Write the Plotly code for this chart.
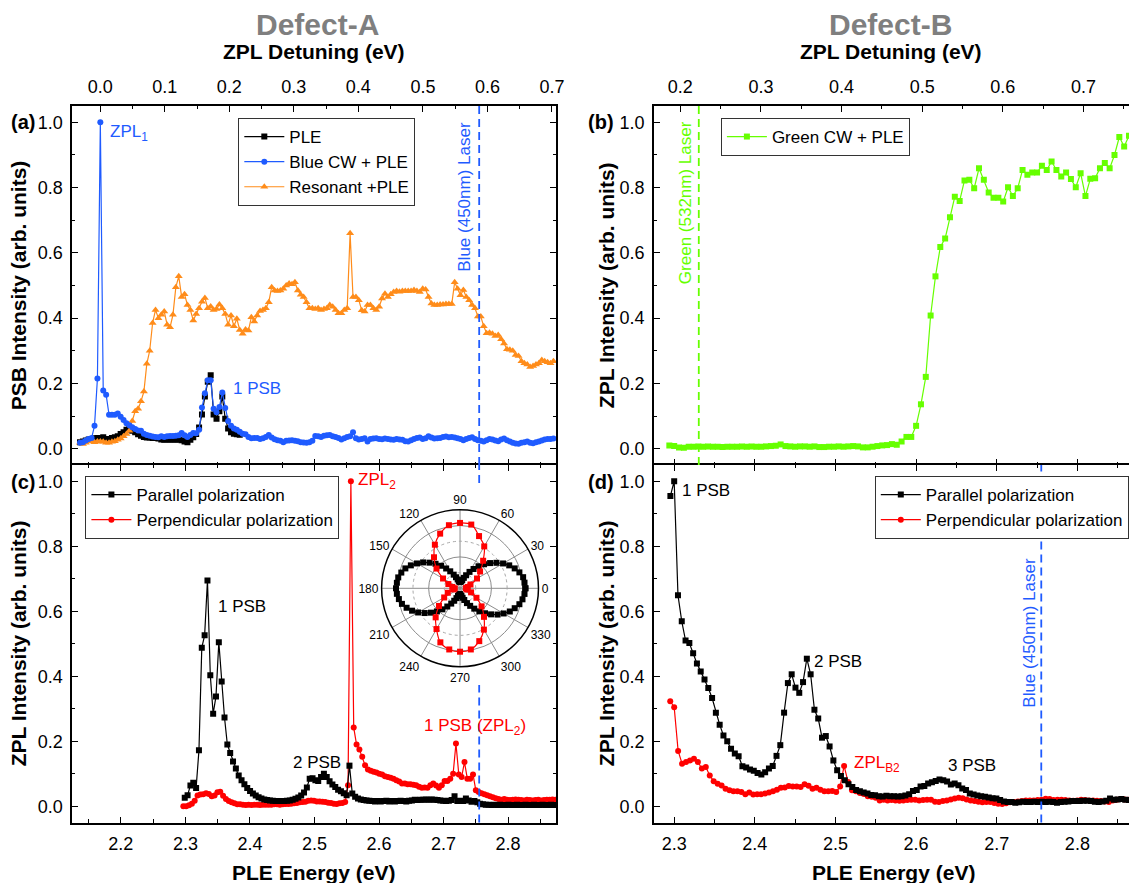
import numpy as np
import plotly.graph_objects as go

W, H = 1137, 883
FONT = "Liberation Sans, Arial, sans-serif"

BLACK = "#000000"
BLUE = "#1F5BFF"
ORANGE = "#FF8C1A"
GREEN = "#66FF00"
RED = "#FF0000"
GREY = "#7F7F7F"

# ---------------- Defect-A, panel (a): PSB-detected PLE ----------------
E0_A, DE_A = 2.1367, 0.0045          # scan start / step (eV)
ZPL_A = 2.168                        # ZPL1 energy, origin of the detuning axis

ple_a = [
    0.020, 0.022, 0.025, 0.028, 0.030, 0.032, 0.033, 0.032, 0.035, 0.030,
    0.028, 0.033, 0.035, 0.038, 0.045, 0.050, 0.058, 0.060, 0.055, 0.050,
    0.044, 0.040, 0.036, 0.034, 0.034, 0.033, 0.033, 0.031, 0.028, 0.027,
    0.028, 0.027, 0.028, 0.027, 0.028, 0.026, 0.022, 0.020, 0.027, 0.035,
    0.045, 0.065, 0.105, 0.160, 0.205, 0.225, 0.105, 0.092, 0.115, 0.160,
    0.092, 0.062, 0.050, 0.046, 0.044, 0.043,
]

blue_cw_ple = [
    0.018, 0.020, 0.025, 0.030, 0.033, 0.070, 0.215, 1.000, 0.178, 0.165,
    0.104, 0.104, 0.104, 0.108, 0.098, 0.088, 0.078, 0.072, 0.066, 0.060,
    0.056, 0.055, 0.046, 0.042, 0.040, 0.037, 0.036, 0.035, 0.038, 0.036,
    0.038, 0.039, 0.039, 0.040, 0.041, 0.048, 0.041, 0.036, 0.042, 0.048,
    0.047, 0.058, 0.126, 0.170, 0.210, 0.210, 0.122, 0.112, 0.128, 0.172,
    0.125, 0.085, 0.070, 0.062, 0.058, 0.052, 0.046, 0.044, 0.036, 0.032,
    0.033, 0.033, 0.030, 0.032, 0.036, 0.042, 0.034, 0.029, 0.026, 0.024,
    0.020, 0.024, 0.025, 0.026, 0.024, 0.023, 0.020, 0.019, 0.018, 0.020,
    0.024, 0.039, 0.038, 0.036, 0.040, 0.041, 0.042, 0.038, 0.036, 0.033,
    0.028, 0.032, 0.036, 0.038, 0.050, 0.032, 0.028, 0.030, 0.032, 0.022,
    0.030, 0.031, 0.032, 0.030, 0.029, 0.031, 0.030, 0.028, 0.027, 0.030,
    0.028, 0.027, 0.023, 0.022, 0.026, 0.030, 0.033, 0.034, 0.030, 0.032,
    0.038, 0.034, 0.031, 0.032, 0.033, 0.036, 0.037, 0.035, 0.036, 0.034,
    0.032, 0.030, 0.026, 0.030, 0.033, 0.035, 0.030, 0.026, 0.024, 0.022,
    0.026, 0.030, 0.028, 0.025, 0.023, 0.028, 0.031, 0.026, 0.022, 0.018,
    0.016, 0.015, 0.018, 0.020, 0.022, 0.018, 0.017, 0.020, 0.022, 0.025,
    0.028, 0.030, 0.030, 0.031,
]

resonant_ple = [
    0.018, 0.014, 0.018, 0.022, 0.026, 0.020, 0.022, 0.022, 0.021, 0.018,
    0.018, 0.021, 0.023, 0.027, 0.031, 0.038, 0.045, 0.055, 0.085, 0.115,
    0.122, 0.145, 0.175, 0.260, 0.300, 0.385, 0.425, 0.400, 0.410, 0.420,
    0.380, 0.372, 0.410, 0.495, 0.528, 0.465, 0.473, 0.440, 0.425, 0.393,
    0.413, 0.430, 0.450, 0.462, 0.430, 0.436, 0.425, 0.428, 0.442, 0.430,
    0.413, 0.380, 0.408, 0.375, 0.398, 0.364, 0.352, 0.365, 0.362, 0.403,
    0.390, 0.408, 0.422, 0.425, 0.430, 0.449, 0.495, 0.485, 0.483, 0.485,
    0.490, 0.500, 0.506, 0.504, 0.510, 0.485, 0.472, 0.465, 0.449, 0.430,
    0.430, 0.428, 0.430, 0.425, 0.428, 0.430, 0.440, 0.435, 0.425, 0.415,
    0.415, 0.425, 0.430, 0.660, 0.465, 0.465, 0.455, 0.424, 0.420, 0.440,
    0.440, 0.430, 0.425, 0.435, 0.460, 0.475, 0.465, 0.473, 0.480, 0.483,
    0.481, 0.483, 0.483, 0.483, 0.483, 0.486, 0.483, 0.480, 0.490, 0.488,
    0.465, 0.445, 0.440, 0.440, 0.442, 0.442, 0.443, 0.443, 0.443, 0.510,
    0.490, 0.470, 0.486, 0.465, 0.455, 0.440, 0.430, 0.405, 0.405, 0.375,
    0.354, 0.355, 0.352, 0.345, 0.348, 0.335, 0.322, 0.305, 0.303, 0.300,
    0.287, 0.284, 0.268, 0.262, 0.258, 0.250, 0.253, 0.258, 0.262, 0.272,
    0.268, 0.265, 0.262, 0.268,
]

# ---------------- Defect-B, panel (b): ZPL-detected PLE ----------------
E0_B, DE_B = 2.294, 0.006
ZPL_B = 2.1076

green_cw_ple = [
    0.010, 0.008, 0.004, 0.003, 0.006, 0.006, 0.007, 0.006, 0.007, 0.006,
    0.006, 0.005, 0.006, 0.006, 0.006, 0.007, 0.006, 0.007, 0.006, 0.006,
    0.007, 0.008, 0.009, 0.013, 0.008, 0.007, 0.006, 0.007, 0.007, 0.006,
    0.007, 0.005, 0.005, 0.006, 0.006, 0.007, 0.006, 0.007, 0.008, 0.007,
    0.004, 0.004, 0.006, 0.008, 0.010, 0.011, 0.014, 0.012, 0.022, 0.036,
    0.036, 0.070, 0.136, 0.220, 0.408, 0.528, 0.618, 0.644, 0.709, 0.772,
    0.759, 0.822, 0.824, 0.798, 0.859, 0.824, 0.785, 0.769, 0.769, 0.757,
    0.801, 0.774, 0.798, 0.854, 0.839, 0.846, 0.846, 0.867, 0.854, 0.880,
    0.854, 0.834, 0.846, 0.826, 0.801, 0.844, 0.774, 0.827, 0.829, 0.859,
    0.875, 0.859, 0.900, 0.955, 0.926, 0.959,
]

# ---------------- Defect-A, panel (c): polarization-resolved PLE ----------------
E0_C_PAR, E0_C_PERP, DE_C = 2.2990, 2.2968, 0.0044

parallel_c = [
    0.026, 0.034, 0.064, 0.072, 0.056, 0.172, 0.488, 0.526, 0.695, 0.403,
    0.285, 0.338, 0.505, 0.384, 0.273, 0.190, 0.164, 0.138, 0.116, 0.095,
    0.080, 0.068, 0.056, 0.047, 0.039, 0.033, 0.028, 0.024, 0.021, 0.019,
    0.018, 0.017, 0.016, 0.016, 0.016, 0.016, 0.017, 0.018, 0.020, 0.023,
    0.027, 0.033, 0.042, 0.058, 0.085, 0.086, 0.080, 0.078, 0.090, 0.100,
    0.090, 0.077, 0.067, 0.059, 0.051, 0.046, 0.040, 0.034, 0.125, 0.039,
    0.029, 0.024, 0.021, 0.019, 0.018, 0.017, 0.016, 0.015, 0.016, 0.015,
    0.016, 0.017, 0.015, 0.016, 0.015, 0.016, 0.017, 0.016, 0.015, 0.017,
    0.018, 0.020, 0.019, 0.020, 0.020, 0.021, 0.020, 0.021, 0.020, 0.019,
    0.018, 0.017, 0.016, 0.017, 0.019, 0.031, 0.016, 0.017, 0.016, 0.024,
    0.018, 0.014, 0.016, 0.012, 0.008, 0.006, 0.005, 0.005, 0.004, 0.005,
    0.004, 0.005, 0.004, 0.004, 0.005, 0.004, 0.004, 0.005, 0.004, 0.004,
    0.005, 0.004, 0.004, 0.005, 0.004, 0.004, 0.005, 0.004, 0.004, 0.005,
    0.004,
]

perpendicular_c = [
    0.000, 0.000, 0.003, 0.008, 0.017, 0.033, 0.036, 0.037, 0.040, 0.038,
    0.031, 0.033, 0.043, 0.045, 0.032, 0.022, 0.016, 0.012, 0.009, 0.006,
    0.006, 0.005, 0.004, 0.005, 0.004, 0.005, 0.005, 0.004, 0.005, 0.005,
    0.005, 0.005, 0.006, 0.006, 0.005, 0.006, 0.007, 0.007, 0.008, 0.009,
    0.010, 0.012, 0.013, 0.014, 0.017, 0.018, 0.017, 0.015, 0.015, 0.014,
    0.013, 0.011, 0.010, 0.008, 0.007, 0.009, 0.010, 0.013, 0.065, 1.000,
    0.242, 0.190, 0.175, 0.152, 0.126, 0.113, 0.109, 0.106, 0.104, 0.100,
    0.098, 0.092, 0.090, 0.088, 0.085, 0.080, 0.076, 0.070, 0.070, 0.068,
    0.068, 0.066, 0.065, 0.060, 0.057, 0.058, 0.057, 0.065, 0.070, 0.064,
    0.057, 0.065, 0.078, 0.078, 0.085, 0.100, 0.193, 0.098, 0.090, 0.136,
    0.085, 0.085, 0.098, 0.049, 0.044, 0.040, 0.037, 0.034, 0.031, 0.028,
    0.025, 0.022, 0.020, 0.022, 0.020, 0.019, 0.020, 0.021, 0.020, 0.019,
    0.018, 0.020, 0.019, 0.018, 0.019, 0.020, 0.018, 0.019, 0.020, 0.020,
    0.021, 0.020,
]

# ---------------- Defect-B, panel (d): polarization-resolved PLE ----------------
E0_D_PAR, DE_D_PAR = 2.2953, 0.0047
E0_D_PERP, DE_D_PERP = 2.2951, 0.0049

parallel_d = [
    0.955, 1.000, 0.649, 0.569, 0.510, 0.502, 0.471, 0.439, 0.415, 0.390,
    0.364, 0.333, 0.288, 0.251, 0.218, 0.200, 0.177, 0.162, 0.154, 0.123,
    0.119, 0.113, 0.109, 0.102, 0.098, 0.105, 0.116, 0.124, 0.155, 0.188,
    0.288, 0.379, 0.406, 0.365, 0.349, 0.382, 0.454, 0.406, 0.297, 0.270,
    0.211, 0.216, 0.184, 0.141, 0.111, 0.093, 0.080, 0.068, 0.059, 0.050,
    0.046, 0.042, 0.039, 0.035, 0.034, 0.031, 0.030, 0.032, 0.031, 0.031,
    0.030, 0.031, 0.033, 0.037, 0.047, 0.050, 0.061, 0.062, 0.070, 0.074,
    0.078, 0.082, 0.080, 0.076, 0.067, 0.070, 0.065, 0.055, 0.050, 0.039,
    0.036, 0.033, 0.031, 0.029, 0.027, 0.025, 0.024, 0.019, 0.015, 0.013,
    0.013, 0.011, 0.012, 0.014, 0.013, 0.013, 0.014, 0.013, 0.014, 0.013,
    0.014, 0.013, 0.011, 0.013, 0.014, 0.015, 0.016, 0.016, 0.016, 0.017,
    0.017, 0.016, 0.014, 0.013, 0.015, 0.017, 0.024, 0.020, 0.021, 0.022,
    0.020, 0.019, 0.020, 0.021,
]

perpendicular_d = [
    0.323, 0.305, 0.170, 0.131, 0.136, 0.141, 0.146, 0.136, 0.116, 0.121,
    0.095, 0.077, 0.069, 0.064, 0.054, 0.049, 0.046, 0.046, 0.044, 0.037,
    0.042, 0.036, 0.037, 0.037, 0.039, 0.042, 0.046, 0.051, 0.057, 0.058,
    0.062, 0.061, 0.061, 0.059, 0.068, 0.063, 0.054, 0.057, 0.051, 0.046,
    0.046, 0.047, 0.044, 0.061, 0.124, 0.075, 0.049, 0.046, 0.041, 0.038,
    0.031, 0.029, 0.026, 0.018, 0.020, 0.018, 0.019, 0.018, 0.017, 0.018,
    0.019, 0.020, 0.020, 0.018, 0.019, 0.020, 0.020, 0.014, 0.013, 0.016,
    0.018, 0.021, 0.024, 0.026, 0.025, 0.021, 0.018, 0.016, 0.014, 0.012,
    0.013, 0.013, 0.010, 0.008, 0.007, 0.009, 0.012, 0.013, 0.015, 0.016,
    0.018, 0.018, 0.018, 0.019, 0.020, 0.023, 0.022, 0.019, 0.020, 0.020,
    0.019, 0.018, 0.017, 0.018, 0.020, 0.019, 0.018, 0.018, 0.017, 0.016,
    0.015, 0.013, 0.018, 0.020, 0.022, 0.021, 0.020, 0.021,
]

# ---------------- inset: ZPL2 intensity vs polarizer angle ----------------
theta_par = list(range(0, 360, 5))
r_par = [
    1.00, 0.99, 0.98, 0.94, 0.89, 0.83, 0.76, 0.68, 0.60, 0.52,
    0.44, 0.36, 0.29, 0.22, 0.17, 0.13, 0.11, 0.10, 0.10, 0.10,
    0.11, 0.14, 0.18, 0.23, 0.30, 0.37, 0.45, 0.53, 0.61, 0.69,
    0.76, 0.83, 0.89, 0.93, 0.96, 0.97, 0.98, 0.97, 0.95, 0.92,
    0.87, 0.81, 0.74, 0.66, 0.58, 0.50, 0.42, 0.34, 0.27, 0.21,
    0.16, 0.12, 0.10, 0.09, 0.09, 0.10, 0.12, 0.15, 0.19, 0.25,
    0.31, 0.38, 0.46, 0.54, 0.62, 0.70, 0.77, 0.84, 0.89, 0.94,
    0.97, 0.99,
]
theta_perp = list(range(0, 360, 10))
r_perp = [
    0.09, 0.12, 0.17, 0.30, 0.40, 0.55, 0.74, 0.85, 0.99, 1.00,
    0.98, 0.89, 0.77, 0.62, 0.47, 0.30, 0.19, 0.12, 0.08, 0.10,
    0.20, 0.28, 0.42, 0.58, 0.72, 0.88, 0.95, 0.97, 0.95, 0.86,
    0.73, 0.57, 0.43, 0.29, 0.18, 0.11,
]

BLUE_LASER = 2.7552    # 450 nm
GREEN_LASER = 2.3305   # 532 nm


def energies(e0, de, values):
    return np.round(e0 + de * np.arange(len(values)), 4)


def closed(seq):
    return list(seq) + [seq[0]]


# ---------------- geometry (pixels -> paper) ----------------
def px(x):
    return x / W


def py(y):
    return 1 - y / H


DX_L = [px(72.7), px(560)]
DX_R = [px(658.5), 1.0]
DY_TOP = [py(465), py(106)]
DY_BOT = [py(822.5), py(465)]
XR_L = [2.1246, 2.8743]
XR_R = [2.2748, 2.864]
YR = [-0.05, 1.05]

fig = go.Figure()


def line_trace(x, y, color, symbol, size, name, xa, ya, legend, rank):
    return go.Scatter(
        x=x, y=y, mode="lines+markers", name=name,
        line=dict(color=color, width=1.2),
        marker=dict(symbol=symbol, size=size, color=color, line=dict(width=0)),
        xaxis=xa, yaxis=ya, legend=legend, legendrank=rank,
    )


# panel (a)
fig.add_trace(line_trace(energies(E0_A, DE_A, ple_a), ple_a, BLACK, "square", 6,
                         "PLE", "x", "y", "legend", 1))
fig.add_trace(line_trace(energies(E0_A, DE_A, resonant_ple), resonant_ple, ORANGE,
                         "triangle-up", 7, "Resonant +PLE", "x", "y", "legend", 3))
fig.add_trace(line_trace(energies(E0_A, DE_A, blue_cw_ple), blue_cw_ple, BLUE,
                         "circle", 6, "Blue CW + PLE", "x", "y", "legend", 2))
fig.add_trace(go.Scatter(x=[], y=[], xaxis="x2", yaxis="y", showlegend=False))

# panel (b)
fig.add_trace(line_trace(energies(E0_B, DE_B, green_cw_ple), green_cw_ple, GREEN,
                         "square", 6, "Green CW + PLE", "x4", "y4", "legend2", 1))
fig.add_trace(go.Scatter(x=[], y=[], xaxis="x5", yaxis="y4", showlegend=False))

# panel (c)
fig.add_trace(line_trace(energies(E0_C_PERP, DE_C, perpendicular_c), perpendicular_c, RED,
                         "circle", 6, "Perpendicular polarization", "x3", "y3", "legend3", 2))
fig.add_trace(line_trace(energies(E0_C_PAR, DE_C, parallel_c), parallel_c, BLACK,
                         "square", 6, "Parallel polarization", "x3", "y3", "legend3", 1))

# panel (d)
fig.add_trace(line_trace(energies(E0_D_PERP, DE_D_PERP, perpendicular_d), perpendicular_d, RED,
                         "circle", 6, "Perpendicular polarization", "x6", "y6", "legend4", 2))
fig.add_trace(line_trace(energies(E0_D_PAR, DE_D_PAR, parallel_d), parallel_d, BLACK,
                         "square", 6, "Parallel polarization", "x6", "y6", "legend4", 1))

# polar inset: an empty trace puts the base polar frame on the page,
# the measured lobes sit in the overlaid polar2 frame
fig.add_trace(go.Scatterpolar(r=[], theta=[], subplot="polar", showlegend=False))
fig.add_trace(go.Scatterpolar(
    r=closed(r_par), theta=closed(theta_par), mode="lines+markers", subplot="polar2",
    line=dict(color=BLACK, width=1.2), marker=dict(symbol="square", size=6, color=BLACK),
    showlegend=False))
fig.add_trace(go.Scatterpolar(
    r=closed(r_perp), theta=closed(theta_perp), mode="lines+markers", subplot="polar2",
    line=dict(color=RED, width=1.2, shape="spline"),
    marker=dict(symbol="square", size=6, color=RED), showlegend=False))

TICKFONT = dict(family=FONT, size=18, color="black")


def axis(**kw):
    base = dict(showline=True, linecolor="black", linewidth=1.5, ticks="inside",
                ticklen=6, tickwidth=1.3, tickcolor="black", showgrid=False,
                zeroline=False, tickfont=TICKFONT, tickformat=".1f",
                ticklabelstandoff=4)
    base.update(kw)
    return base


def minor(d, t0):
    return dict(ticks="inside", ticklen=3.5, tickwidth=1.2, tickcolor="black",
                dtick=d, tick0=t0)


fig.update_layout(
    xaxis=axis(domain=DX_L, anchor="y", range=XR_L, dtick=0.1, tick0=2.2,
               minor=minor(0.05, 2.2), showticklabels=False, showline=False),
    xaxis2=axis(overlaying="x", side="top", anchor="y",
                range=[XR_L[0] - ZPL_A, XR_L[1] - ZPL_A], dtick=0.1, tick0=0,
                minor=minor(0.05, 0)),
    yaxis=axis(domain=DY_TOP, anchor="x", range=YR, dtick=0.2, tick0=0,
               minor=minor(0.1, 0), mirror="ticks"),
    xaxis3=axis(domain=DX_L, anchor="y3", range=XR_L, dtick=0.1, tick0=2.2,
                minor=minor(0.05, 2.2), mirror="ticks"),
    yaxis3=axis(domain=DY_BOT, anchor="x3", range=YR, dtick=0.2, tick0=0,
                minor=minor(0.1, 0), mirror="ticks"),
    xaxis4=axis(domain=DX_R, anchor="y4", range=XR_R, dtick=0.1, tick0=2.3,
                minor=minor(0.05, 2.3), showticklabels=False, showline=False),
    xaxis5=axis(overlaying="x4", side="top", anchor="y4",
                range=[XR_R[0] - ZPL_B, XR_R[1] - ZPL_B], dtick=0.1, tick0=0,
                minor=minor(0.05, 0)),
    yaxis4=axis(domain=DY_TOP, anchor="x4", range=YR, dtick=0.2, tick0=0,
                minor=minor(0.1, 0)),
    xaxis6=axis(domain=DX_R, anchor="y6", range=XR_R, dtick=0.1, tick0=2.3,
                minor=minor(0.05, 2.3), mirror="ticks"),
    yaxis6=axis(domain=DY_BOT, anchor="x6", range=YR, dtick=0.2, tick0=0,
                minor=minor(0.1, 0)),
)

# polar inset: base layer (white disc, spokes, dashed rings, angle labels)
POLAR_DOM = dict(x=[px(384.3), px(542.3)], y=[py(667.3), py(509.3)])
fig.update_layout(
    polar=dict(
        domain=POLAR_DOM, bgcolor="white",
        radialaxis=dict(range=[0, 1.2], tickvals=[0.24, 0.72], showticklabels=False,
                        ticks="", showline=False, gridcolor="#A8A8A8", griddash="3px,3px",
                        gridwidth=1),
        angularaxis=dict(rotation=0, direction="counterclockwise",
                         tickvals=list(range(0, 360, 30)),
                         ticktext=[str(a) for a in range(0, 360, 30)],
                         ticks="", gridcolor="#8C8C8C", gridwidth=1,
                         linecolor="black", linewidth=1.5,
                         tickfont=dict(family=FONT, size=12, color="black")),
    ),
    polar2=dict(
        domain=POLAR_DOM, bgcolor="rgba(0,0,0,0)",
        radialaxis=dict(range=[0, 1.2], tickvals=[0.48, 0.96], showticklabels=False,
                        ticks="", showline=False, gridcolor="#8C8C8C", gridwidth=1),
        angularaxis=dict(rotation=0, direction="counterclockwise", showgrid=False,
                         showline=False, showticklabels=False, ticks=""),
    ),
)

# legends
LEGFONT = dict(family=FONT, size=17, color="black")


def legend_box(x, y):
    return dict(x=px(x), y=py(y), xanchor="left", yanchor="top", font=LEGFONT,
                bgcolor="white", bordercolor="#333333", borderwidth=1,
                itemwidth=40, tracegroupgap=0, traceorder="normal")


fig.update_layout(
    legend=legend_box(240, 118),
    legend2=legend_box(726, 118),
    legend3=legend_box(86, 476),
    legend4=legend_box(881, 476),
)

# laser lines
DASH = "8px,5px"
shapes = [
    dict(type="line", xref="x", yref="y domain", x0=BLUE_LASER, x1=BLUE_LASER,
         y0=0, y1=1, line=dict(color=BLUE, width=1.8, dash=DASH)),
    dict(type="line", xref="x3", yref="y3 domain", x0=BLUE_LASER, x1=BLUE_LASER,
         y0=(822.5 - 483) / 357.5, y1=1, line=dict(color=BLUE, width=1.8, dash=DASH)),
    dict(type="line", xref="x3", yref="y3 domain", x0=BLUE_LASER, x1=BLUE_LASER,
         y0=0, y1=(822.5 - 685) / 357.5, line=dict(color=BLUE, width=1.8, dash=DASH)),
    dict(type="line", xref="x4", yref="y4 domain", x0=GREEN_LASER, x1=GREEN_LASER,
         y0=0, y1=1, line=dict(color=GREEN, width=1.8, dash=DASH)),
    dict(type="line", xref="x6", yref="y6 domain", x0=BLUE_LASER, x1=BLUE_LASER,
         y0=0, y1=1, line=dict(color=BLUE, width=1.8, dash=DASH)),
]
fig.update_layout(shapes=shapes)


def text(x, y, s, size=17, color="black", bold=False, angle=0, xanchor="center"):
    return dict(x=px(x), y=py(y), xref="paper", yref="paper", text=s, showarrow=False,
                textangle=angle, xanchor=xanchor, yanchor="middle",
                font=dict(family=FONT, size=size, color=color,
                          weight="bold" if bold else "normal"))


annotations = [
    text(320, 24, "Defect-A", 30, GREY, True),
    text(897, 24, "Defect-B", 30, GREY, True),
    text(316, 51, "ZPL Detuning (eV)", 21, bold=True),
    text(897, 51, "ZPL Detuning (eV)", 21, bold=True),
    text(316, 872, "PLE Energy (eV)", 21, bold=True),
    text(900, 872, "PLE Energy (eV)", 21, bold=True),
    text(19, 285.5, "PSB Intensity (arb. units)", 21, bold=True, angle=-90),
    text(19, 643.5, "ZPL Intensity (arb. units)", 21, bold=True, angle=-90),
    text(611, 285.5, "ZPL Intensity (arb. units)", 21, bold=True, angle=-90),
    text(611, 643.5, "ZPL Intensity (arb. units)", 21, bold=True, angle=-90),
    text(23, 122, "(a)", 20, bold=True),
    text(605, 122, "(b)", 20, bold=True),
    text(23, 482, "(c)", 20, bold=True),
    text(605, 482, "(d)", 20, bold=True),
    text(467, 197, "Blue (450nm) Laser", 17, BLUE, angle=-90),
    text(690, 203, "Green (532nm) Laser", 17, GREEN, angle=-90),
    text(1036, 633, "Blue (450nm) Laser", 17, BLUE, angle=-90),
    text(109, 133, "ZPL<sub>1</sub>", 17, BLUE, xanchor="left"),
    text(233, 388, "1 PSB", 17, BLUE, xanchor="left"),
    text(359, 481, "ZPL<sub>2</sub>", 17, RED, xanchor="left"),
    text(218, 606, "1 PSB", 17, xanchor="left"),
    text(293, 762, "2 PSB", 17, xanchor="left"),
    text(425, 727, "1 PSB (ZPL<sub>2</sub>)", 17, RED, xanchor="left"),
    text(685, 490, "1 PSB", 17, xanchor="left"),
    text(818, 661, "2 PSB", 17, xanchor="left"),
    text(858, 764, "ZPL<sub>B2</sub>", 17, RED, xanchor="left"),
    text(953, 765, "3 PSB", 17, xanchor="left"),
]
fig.update_layout(annotations=annotations)

fig.update_layout(
    width=W, height=H, autosize=False,
    margin=dict(l=0, r=0, t=0, b=0, pad=0),
    paper_bgcolor="white", plot_bgcolor="white",
    font=dict(family=FONT, size=17, color="black"),
)

fig.write_html("out.html")
